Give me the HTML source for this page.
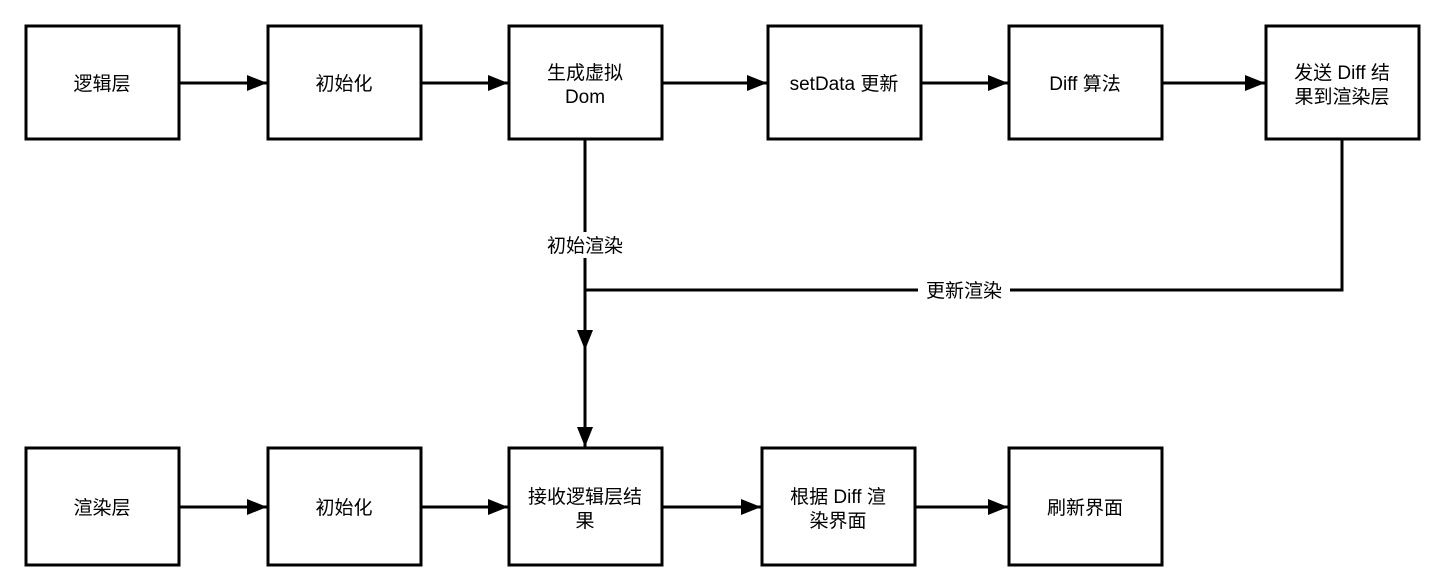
<!DOCTYPE html>
<html><head><meta charset="utf-8"><style>
body{margin:0;background:#fff}
svg text{font-family:"Liberation Sans","Noto Sans CJK SC",sans-serif;font-size:19px;fill:#000}
</style></head><body>
<svg width="1440" height="582" xmlns="http://www.w3.org/2000/svg">
<defs><marker id="a" markerWidth="20" markerHeight="16" refX="20" refY="8" orient="auto" markerUnits="userSpaceOnUse"><path d="M0,0L20,8L0,16z" fill="#000"/></marker></defs>
<g fill="#fff" stroke="#000" stroke-width="3">
<rect x="26" y="26" width="153" height="113"/>
<rect x="268" y="26" width="153" height="113"/>
<rect x="509" y="26" width="153" height="113"/>
<rect x="768" y="26" width="153" height="113"/>
<rect x="1009" y="26" width="153" height="113"/>
<rect x="1266" y="26" width="153" height="113"/>
<rect x="26" y="448" width="153" height="117"/>
<rect x="268" y="448" width="153" height="117"/>
<rect x="509" y="448" width="153" height="117"/>
<rect x="762" y="448" width="153" height="117"/>
<rect x="1009" y="448" width="153" height="117"/>
</g>
<g stroke="#000" stroke-width="3" fill="none" marker-end="url(#a)">
<line x1="179" y1="83" x2="267" y2="83"/>
<line x1="421" y1="83" x2="508" y2="83"/>
<line x1="662" y1="83" x2="767" y2="83"/>
<line x1="921" y1="83" x2="1008" y2="83"/>
<line x1="1162" y1="83" x2="1265" y2="83"/>
<line x1="179" y1="507" x2="267" y2="507"/>
<line x1="421" y1="507" x2="508" y2="507"/>
<line x1="662" y1="507" x2="761" y2="507"/>
<line x1="915" y1="507" x2="1008" y2="507"/>
<line x1="585" y1="139" x2="585" y2="350"/>
<line x1="585" y1="340" x2="585" y2="447"/>
</g>
<polyline points="1342,139 1342,290 585,290" stroke="#000" stroke-width="3" fill="none"/>
<rect x="530" y="232" width="110" height="26" fill="#fff"/>
<rect x="918" y="280" width="92" height="22" fill="#fff"/>
<g text-anchor="middle">
<text x="102" y="90">逻辑层</text>
<text x="344" y="90">初始化</text>
<text x="585" y="79">生成虚拟</text><text x="585" y="103">Dom</text>
<text x="844" y="90">setData 更新</text>
<text x="1085" y="90">Diff 算法</text>
<text x="1342" y="79">发送 Diff 结</text><text x="1342" y="103">果到渲染层</text>
<text x="585" y="252">初始渲染</text>
<text x="964" y="297">更新渲染</text>
<text x="102" y="514">渲染层</text>
<text x="344" y="514">初始化</text>
<text x="585" y="503">接收逻辑层结</text><text x="585" y="527">果</text>
<text x="838" y="503">根据 Diff 渲</text><text x="838" y="527">染界面</text>
<text x="1085" y="514">刷新界面</text>
</g>
</svg>
</body></html>
